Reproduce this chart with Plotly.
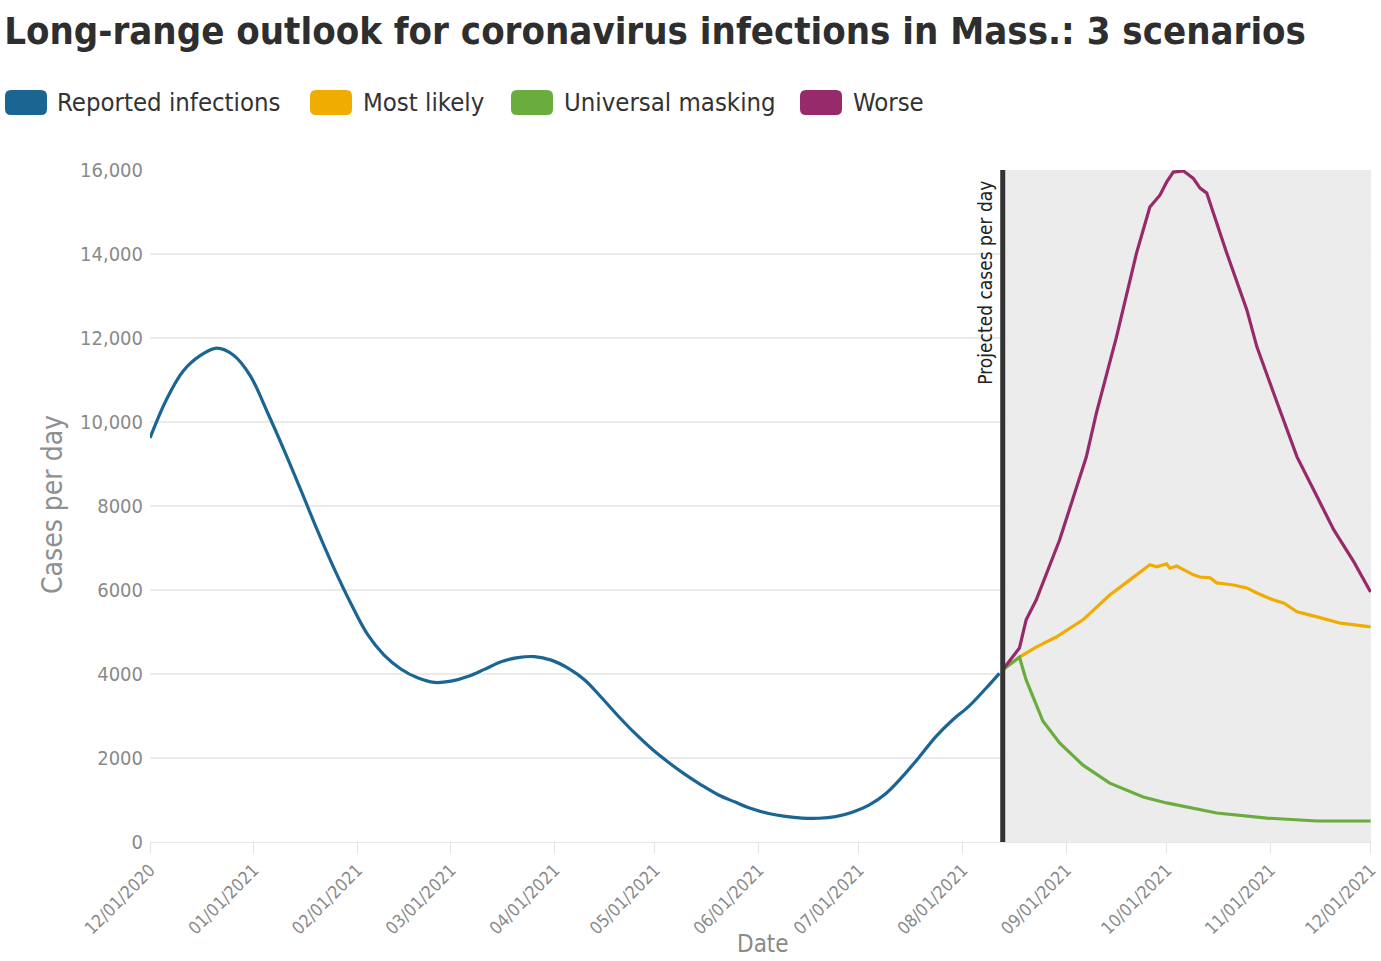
import plotly.graph_objects as go

# ---------------- data ----------------
reported_dates = ["2020-12-01", "2020-12-06", "2020-12-11", "2020-12-16", "2020-12-21",
                  "2020-12-26", "2020-12-31", "2021-01-05", "2021-01-10", "2021-01-15",
                  "2021-01-20", "2021-01-25", "2021-01-30", "2021-02-04", "2021-02-09",
                  "2021-02-14", "2021-02-19", "2021-02-24", "2021-03-01", "2021-03-06",
                  "2021-03-11", "2021-03-16", "2021-03-21", "2021-03-26", "2021-03-31",
                  "2021-04-05", "2021-04-10", "2021-04-15", "2021-04-20", "2021-04-25",
                  "2021-04-30", "2021-05-05", "2021-05-10", "2021-05-15", "2021-05-20",
                  "2021-05-25", "2021-05-30", "2021-06-04", "2021-06-09", "2021-06-14",
                  "2021-06-19", "2021-06-24", "2021-06-29", "2021-07-04", "2021-07-09",
                  "2021-07-14", "2021-07-19", "2021-07-24", "2021-07-29", "2021-08-03",
                  "2021-08-08", "2021-08-12"]
reported_vals = [9620, 10550, 11220, 11580, 11760,
                 11590, 11100, 10250, 9350, 8400,
                 7430, 6520, 5690, 4950, 4450,
                 4120, 3910, 3800, 3830, 3940,
                 4110, 4290, 4390, 4413, 4330,
                 4140, 3857, 3440, 3000, 2590,
                 2220, 1900, 1610, 1350, 1120,
                 950, 790, 680, 610, 570,
                 565, 605, 710, 880, 1150,
                 1555, 2020, 2510, 2905, 3240,
                 3660, 4016]

likely_dates = ["2021-08-13", "2021-08-18", "2021-08-23", "2021-08-29", "2021-09-06",
                "2021-09-14", "2021-09-22", "2021-09-26", "2021-09-28", "2021-10-01",
                "2021-10-02", "2021-10-04", "2021-10-09", "2021-10-11", "2021-10-14",
                "2021-10-16", "2021-10-21", "2021-10-25", "2021-10-28", "2021-11-02",
                "2021-11-05", "2021-11-09", "2021-11-15", "2021-11-22", "2021-12-01"]
likely_vals = [4100, 4400, 4640, 4880, 5290,
               5880, 6360, 6600, 6550, 6620,
               6520, 6570, 6360, 6310, 6290,
               6170, 6120, 6050, 5930, 5760,
               5690, 5480, 5360, 5210, 5120]

masking_dates = ["2021-08-13", "2021-08-18", "2021-08-20", "2021-08-25", "2021-08-30",
                 "2021-09-06", "2021-09-14", "2021-09-24", "2021-10-01", "2021-10-16",
                 "2021-10-31", "2021-11-15", "2021-12-01"]
masking_vals = [4100, 4400, 3860, 2880, 2360,
                1830, 1400, 1070, 930, 690,
                570, 500, 500]

worse_dates = ["2021-08-13", "2021-08-18", "2021-08-20", "2021-08-23", "2021-08-30",
               "2021-09-07", "2021-09-10", "2021-09-16", "2021-09-22", "2021-09-26",
               "2021-09-29", "2021-10-01", "2021-10-03", "2021-10-06", "2021-10-09",
               "2021-10-11", "2021-10-13", "2021-10-19", "2021-10-25", "2021-10-28",
               "2021-11-02", "2021-11-09", "2021-11-14", "2021-11-20", "2021-11-26",
               "2021-12-01"]
worse_vals = [4100, 4620, 5290, 5760, 7190,
              9170, 10210, 12020, 14020, 15120,
              15400, 15710, 15950, 15980, 15800,
              15570, 15450, 14020, 12670, 11790,
              10690, 9170, 8380, 7430, 6670,
              5950]

projection_start = "2021-08-13"
x_start, x_end = "2020-12-01", "2021-12-01 03:00"

x_tickvals = ["2020-12-01", "2021-01-01", "2021-02-01", "2021-03-01", "2021-04-01",
              "2021-05-01", "2021-06-01", "2021-07-01", "2021-08-01", "2021-09-01",
              "2021-10-01", "2021-11-01", "2021-12-01"]
x_ticktext = ["12/01/2020", "01/01/2021", "02/01/2021", "03/01/2021", "04/01/2021",
              "05/01/2021", "06/01/2021", "07/01/2021", "08/01/2021", "09/01/2021",
              "10/01/2021", "11/01/2021", "12/01/2021"]
y_tickvals = [0, 2000, 4000, 6000, 8000, 10000, 12000, 14000, 16000]
y_ticktext = ["0", "2000", "4000", "6000", "8000", "10,000", "12,000", "14,000", "16,000"]

series_names = ["Reported infections", "Most likely", "Universal masking", "Worse"]
series_colors = ["#1b6592", "#f0ac00", "#6aac3e", "#962a6a"]

FONT = "DejaVu Sans Condensed, Liberation Sans Narrow, sans-serif"
W, H = 1381, 961
ML, MR, MT, MB = 150, 10, 170, 119
PW, PH = W - ML - MR, H - MT - MB

def px_to_paper(px, py):
    return (px - ML) / PW, (H - MB - py) / PH

fig = go.Figure()
fig.add_trace(go.Scatter(x=reported_dates, y=reported_vals, mode="lines",
                         line=dict(color=series_colors[0], width=3.2, shape="spline", smoothing=1.0),
                         name=series_names[0]))
fig.add_trace(go.Scatter(x=likely_dates, y=likely_vals, mode="lines",
                         line=dict(color=series_colors[1], width=3.2),
                         name=series_names[1]))
fig.add_trace(go.Scatter(x=masking_dates, y=masking_vals, mode="lines",
                         line=dict(color=series_colors[2], width=3.2),
                         name=series_names[2]))
fig.add_trace(go.Scatter(x=worse_dates, y=worse_vals, mode="lines",
                         line=dict(color=series_colors[3], width=3.2),
                         name=series_names[3]))

shapes = [
    dict(type="rect", xref="x", yref="paper", x0=projection_start, x1=x_end, y0=0, y1=1,
         fillcolor="#ececec", line=dict(width=0), layer="below"),
    dict(type="line", xref="x", yref="paper", x0=projection_start, x1=projection_start, y0=0, y1=1,
         line=dict(color="#333333", width=5), layer="above"),
]

# manual legend with rounded swatches
legend_swatch_x = [5, 310, 511, 800]
legend_text_x = [55, 361, 562, 851]
sw_w, r = 42, 6
sy0, sy1 = 90, 115
annotations = []
for i, name in enumerate(series_names):
    x0, x1 = legend_swatch_x[i], legend_swatch_x[i] + sw_w
    a0, b0 = px_to_paper(x0, sy1)
    a1, b1 = px_to_paper(x1, sy0)
    rx, ry = r / PW, r / PH
    path = (f"M {a0+rx},{b0} L {a1-rx},{b0} Q {a1},{b0} {a1},{b0+ry} "
            f"L {a1},{b1-ry} Q {a1},{b1} {a1-rx},{b1} L {a0+rx},{b1} "
            f"Q {a0},{b1} {a0},{b1-ry} L {a0},{b0+ry} Q {a0},{b0} {a0+rx},{b0} Z")
    shapes.append(dict(type="path", xref="paper", yref="paper", path=path,
                       fillcolor=series_colors[i], line=dict(width=0)))
    tx, ty = px_to_paper(legend_text_x[i], 102)
    annotations.append(dict(text=name, xref="paper", yref="paper", x=tx, y=ty,
                            xanchor="left", yanchor="middle", showarrow=False,
                            font=dict(family=FONT, size=25.5, color="#333333")))

annotations.append(dict(text="Projected cases per day", xref="x", yref="paper",
                        x=projection_start, y=1, xanchor="right", yanchor="top",
                        xshift=-5, yshift=-9, textangle=-90, showarrow=False,
                        font=dict(family=FONT, size=19, color="#222222")))

# axis titles
ytx, yty = px_to_paper(52, 505)
annotations.append(dict(text="Cases per day", xref="paper", yref="paper", x=ytx, y=yty,
                        xanchor="center", yanchor="middle", textangle=-90, showarrow=False,
                        font=dict(family=FONT, size=28, color="#8f8f8f")))
xtx, xty = px_to_paper(763, 944)
annotations.append(dict(text="Date", xref="paper", yref="paper", x=xtx, y=xty,
                        xanchor="center", yanchor="middle", showarrow=False,
                        font=dict(family=FONT, size=24, color="#8a8a8a")))

fig.update_layout(
    width=W, height=H,
    margin=dict(l=ML, r=MR, t=MT, b=MB),
    paper_bgcolor="white", plot_bgcolor="white",
    showlegend=False,
    title=dict(text="<b>Long-range outlook for coronavirus infections in Mass.: 3 scenarios</b>",
               x=0.003, xanchor="left", y=0.968, yanchor="middle",
               font=dict(family=FONT, size=38, color="#2e2e2e")),
    shapes=shapes,
    annotations=annotations,
    xaxis=dict(range=[x_start, x_end], type="date", automargin=False,
               tickvals=x_tickvals, ticktext=x_ticktext, tickangle=-45,
               ticklabeloverflow="allow",
               tickfont=dict(family=FONT, size=17.5, color="#8a8a8a"),
               ticks="outside", ticklen=10, tickcolor="#e3e3e3", tickwidth=1,
               showgrid=False, showline=True, linecolor="#e6e6e6", linewidth=1,
               zeroline=False),
    yaxis=dict(range=[0, 16000], tickvals=y_tickvals, ticktext=y_ticktext, automargin=False,
               tickfont=dict(family=FONT, size=20, color="#8a8a8a"),
               showgrid=True, gridcolor="#ebebeb", gridwidth=1.5,
               zeroline=False, ticks="", ticklabelstandoff=6),
)

fig.write_html("out.html", config={"displayModeBar": False},
               post_script="document.body.style.margin='0';document.body.style.overflow='hidden';")
